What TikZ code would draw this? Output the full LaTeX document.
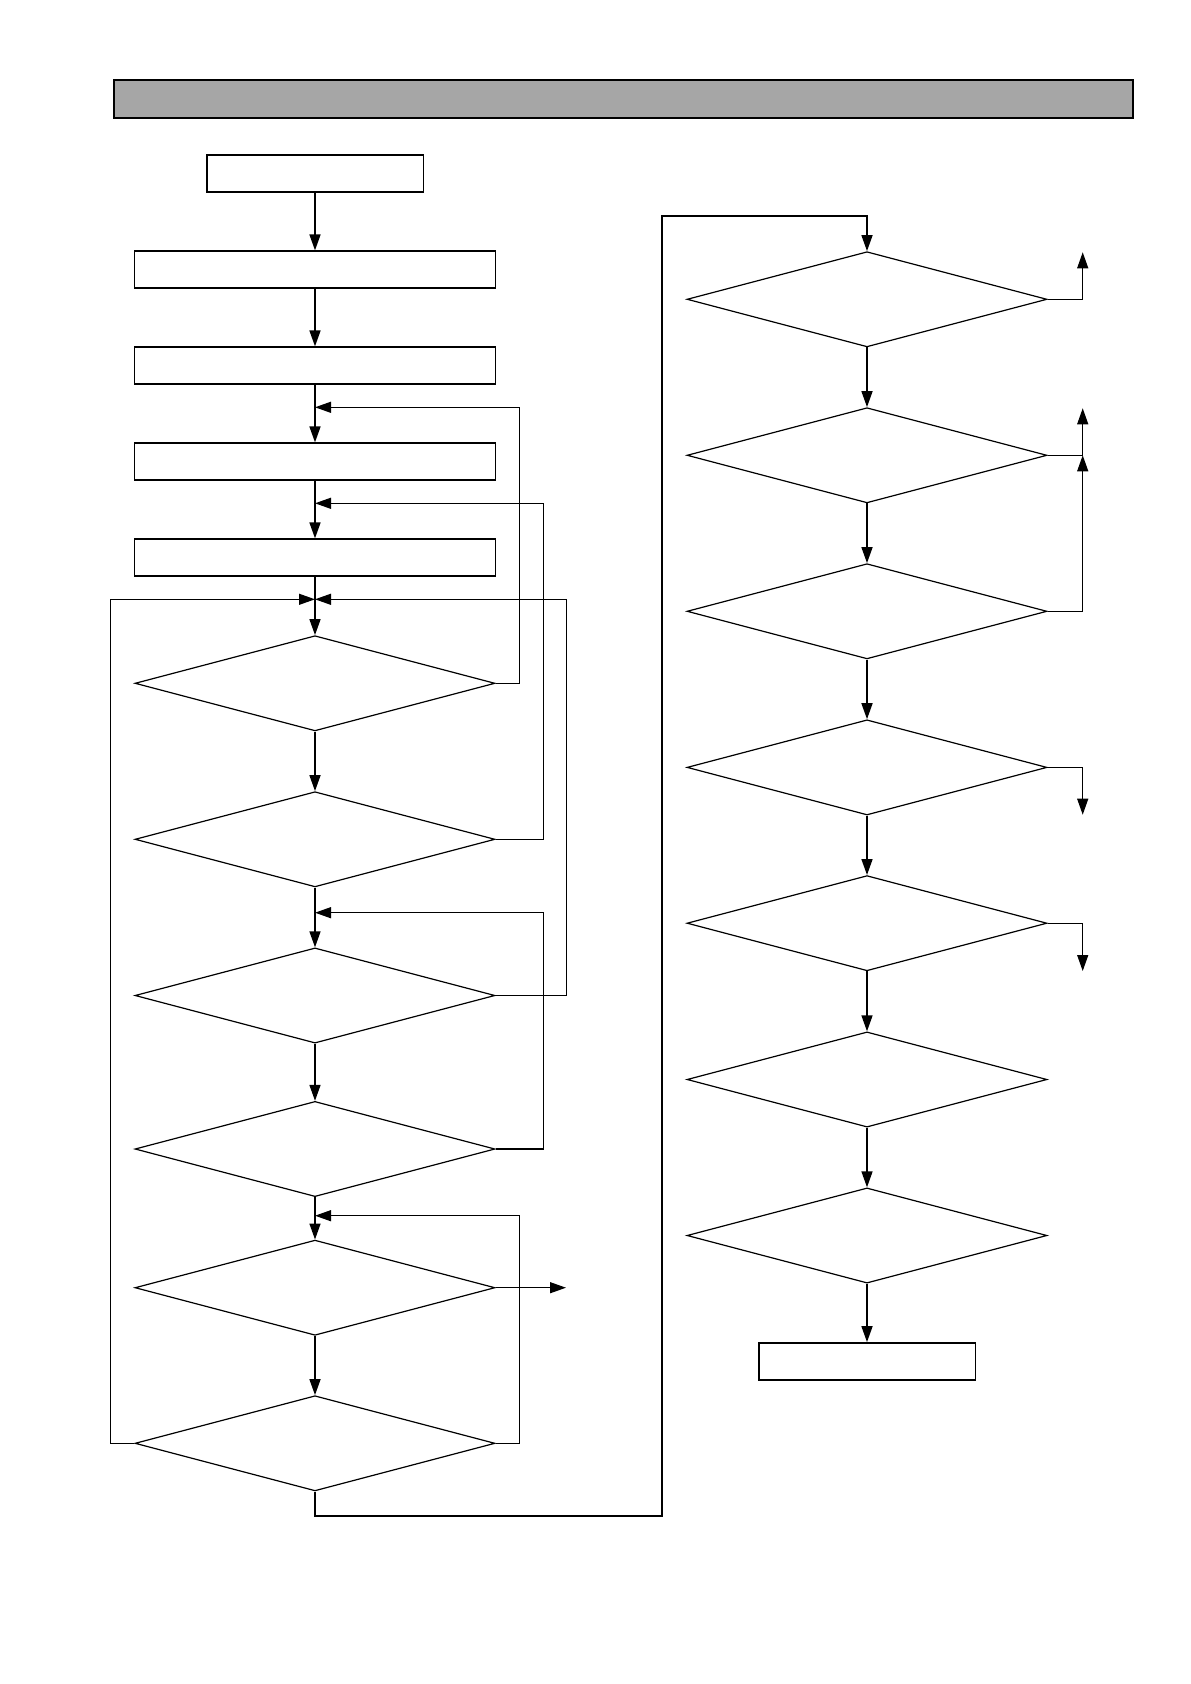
\documentclass[tikz,border=0pt]{standalone}
\usepackage{tikz}
\usetikzlibrary{
  arrows.meta,        % Triangle 箭头
  calc,               % 坐标计算
  shapes.geometric,   % 菱形判断框
  positioning         % 节点相对定位
}
\definecolor{bargray}{HTML}{A6A6A6}

\begin{document}
\begin{tikzpicture}[x=0.5pt, y=-0.5pt, >={Triangle[length=8pt,width=5.5pt]},
  titlebar/.style={draw, line width=1pt, fill=bargray, inner sep=0pt, minimum width=509.6pt, minimum height=19pt},
  box/.style={draw, line width=0.9pt, inner sep=0pt, minimum width=180.5pt, minimum height=18.4pt},
  endbox/.style={box, minimum width=108.4pt},
  decision/.style={draw, diamond, line width=0.6pt, inner sep=0pt, minimum width=180pt, minimum height=47.6pt},
  flow/.style={->, line width=0.8pt},
  loopline/.style={line width=0.6pt}]

  % 页面范围 (像素坐标, y 向下)
  \useasboundingbox (0,0) rectangle (1190,1684);

  % =========== 标题栏 ===========
  \node[titlebar] (title) at (623.4,99.5) {};

  % =========== 左列：方框 ===========
  \node[endbox] (start) at (315,173.7) {};
  \node[box] (b1) at (315,269.7) {};
  \node[box] (b2) at (315,365.7) {};
  \node[box] (b3) at (315,461.7) {};
  \node[box] (b4) at (315,557.7) {};

  % =========== 左列：判断 ===========
  \node[decision] (d1) at (315,683.3) {};
  \node[decision] (d2) at (315,839.3) {};
  \node[decision] (d3) at (315,995.5) {};
  \node[decision] (d4) at (315,1149) {};
  \node[decision] (d5) at (315,1287.7) {};
  \node[decision] (d6) at (315,1443.3) {};

  % 主干上的汇合点
  \coordinate (j1) at (315,407.3);
  \coordinate (j2) at (315,503.3);
  \coordinate (j0) at (315,599.3);
  \coordinate (j3) at (315,912.7);
  \coordinate (j4) at (315,1215.7);

  % =========== 右列：判断与结束框 ===========
  \node[decision] (r1) at (867,299.3) {};
  \node[decision] (r2) at (867,455.3) {};
  \node[decision] (r3) at (867,611.3) {};
  \node[decision] (r4) at (867,767.4) {};
  \node[decision] (r5) at (867,923.2) {};
  \node[decision] (r6) at (867,1079.5) {};
  \node[decision] (r7) at (867,1235.5) {};
  \node[endbox] (stop) at (867,1361.4) {};

  % 右侧出口端点
  \coordinate (e1) at (1082.7,252.3);
  \coordinate (e2) at (1082.7,408.3);
  \coordinate (m2) at (1082.7,455.3);
  \coordinate (e4) at (1082.7,814.7);
  \coordinate (e5) at (1082.7,971);
  \coordinate (e6) at (566,1287.7);
  % 左右两列之间的连线拐点
  \coordinate (c1) at (661.7,1515.7);
  \coordinate (c2) at (661.7,216);

  % =========== 主干箭头 ===========
  \draw[flow] (start) -- (b1);
  \draw[flow] (b1) -- (b2);
  \draw[flow] (b2) -- (b3);
  \draw[flow] (b3) -- (b4);
  \draw[flow] (b4) -- (d1);
  \draw[flow] (d1) -- (d2);
  \draw[flow] (d2) -- (d3);
  \draw[flow] (d3) -- (d4);
  \draw[flow] (d4) -- (d5);
  \draw[flow] (d5) -- (d6);

  % =========== 回路 ===========
  \draw[loopline,->] (d1.east) -- ++(24,0) |- (j1);
  \draw[loopline,->] (d2.east) -- ++(47.7,0) |- (j2);
  \draw[loopline,->] (d3.east) -- ++(71,0) |- (j0);
  \draw[loopline,->] (d6.west) -- ++(-24,0) |- (j0);
  \draw[loopline,->] (d4.east) -- ++(47.7,0) |- (j3);
  \draw[loopline,->] (d6.east) -- ++(24,0) |- (j4);
  \draw[loopline,->] (d5.east) -- (e6);

  % 转到右列
  \draw[flow] (d6.south) |- (c1) -- (c2) -| (r1.north);

  % =========== 右列箭头 ===========
  \draw[flow] (r1) -- (r2);
  \draw[flow] (r2) -- (r3);
  \draw[flow] (r3) -- (r4);
  \draw[flow] (r4) -- (r5);
  \draw[flow] (r5) -- (r6);
  \draw[flow] (r6) -- (r7);
  \draw[flow] (r7) -- (stop);

  % 右侧出口
  \draw[loopline,->] (r1.east) -| (e1);
  \draw[loopline] (r2.east) -- (m2);
  \draw[loopline,->] (m2) -- (e2);
  \draw[loopline,->] (r3.east) -| (m2);
  \draw[loopline,->] (r4.east) -| (e4);
  \draw[loopline,->] (r5.east) -| (e5);

\end{tikzpicture}
\end{document}
